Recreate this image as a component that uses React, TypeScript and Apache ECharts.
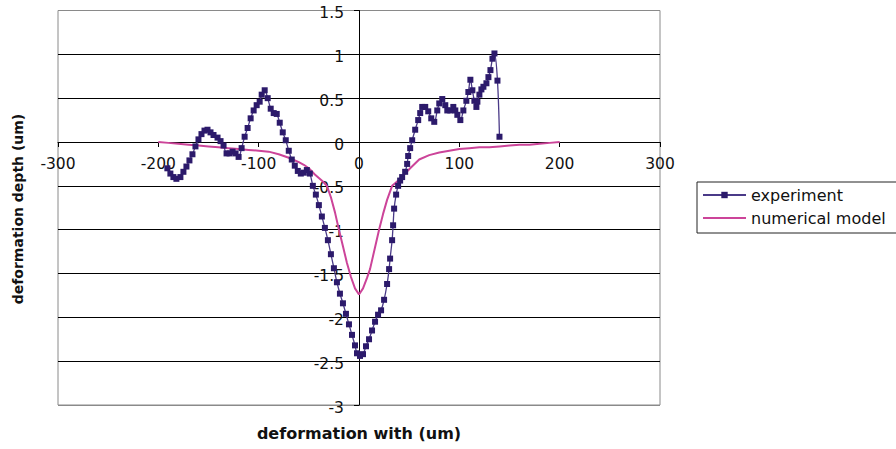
import React, { useEffect, useRef } from "react";
import * as echarts from "echarts";

const expX = [-191, -188, -185, -182, -178, -175, -172, -169, -166, -163, -160, -157, -154, -151, -148, -145, -141, -138, -135, -132, -129, -126, -123, -120, -117, -114, -111, -108, -105, -102, -99, -97, -94, -91, -88, -85, -82, -79, -76, -73, -70, -67, -64, -61, -58, -55, -52, -49, -46, -43, -40, -37, -34, -31, -28, -25, -22, -19, -16, -13, -10, -7, -4, -2, 1, 4, 7, 10, 13, 16, 19, 22, 25, 28, 30, 31, 33, 34, 35, 37, 39, 41, 43, 46, 48, 49, 51, 53, 56, 59, 61, 63, 66, 69, 72, 75, 78, 80, 83, 86, 88, 91, 94, 96, 98, 101, 104, 107, 109, 111, 113, 115, 117, 118, 120, 122, 124, 127, 129, 131, 133, 135, 138, 140];
const expY = [-0.3, -0.36, -0.4, -0.42, -0.4, -0.34, -0.28, -0.21, -0.14, -0.05, 0.03, 0.09, 0.13, 0.14, 0.11, 0.08, 0.05, 0.01, -0.04, -0.13, -0.13, -0.11, -0.13, -0.17, -0.07, 0.06, 0.16, 0.27, 0.36, 0.42, 0.46, 0.54, 0.59, 0.5, 0.38, 0.33, 0.32, 0.22, 0.11, 0.02, -0.1, -0.2, -0.27, -0.33, -0.36, -0.35, -0.32, -0.36, -0.5, -0.6, -0.72, -0.85, -0.98, -1.12, -1.28, -1.44, -1.6, -1.73, -1.84, -1.96, -2.08, -2.2, -2.32, -2.41, -2.44, -2.42, -2.33, -2.25, -2.15, -2.05, -1.97, -1.92, -1.8, -1.62, -1.45, -1.33, -1.12, -0.95, -0.76, -0.6, -0.5, -0.44, -0.4, -0.34, -0.25, -0.16, -0.07, 0.02, 0.14, 0.25, 0.33, 0.4, 0.4, 0.35, 0.27, 0.23, 0.36, 0.44, 0.49, 0.42, 0.36, 0.36, 0.4, 0.36, 0.31, 0.25, 0.36, 0.47, 0.57, 0.71, 0.59, 0.47, 0.4, 0.46, 0.54, 0.6, 0.63, 0.67, 0.74, 0.82, 0.95, 1.01, 0.7, 0.06];

const modelX = [-200, -190, -180, -170, -160, -150, -140, -130, -120, -110, -100, -90, -80, -70, -60, -55, -50, -44, -40, -36, -32, -28, -24, -20, -16, -12, -8, -4, 0, 4, 8, 11, 16, 20, 24, 28, 33, 36, 40, 45, 51, 60, 70, 80, 90, 100, 110, 120, 130, 140, 150, 160, 170, 180, 190, 200];
const modelY = [0, -0.01, -0.02, -0.03, -0.04, -0.05, -0.06, -0.07, -0.08, -0.09, -0.1, -0.11, -0.14, -0.18, -0.23, -0.26, -0.3, -0.37, -0.41, -0.45, -0.5, -0.63, -0.8, -1.0, -1.19, -1.38, -1.54, -1.67, -1.74, -1.67, -1.55, -1.45, -1.2, -1.0, -0.82, -0.66, -0.5, -0.47, -0.43, -0.37, -0.3, -0.2, -0.15, -0.12, -0.1, -0.08, -0.07, -0.06, -0.06, -0.05, -0.04, -0.03, -0.03, -0.02, -0.01, 0];

const seriesNames = ["experiment", "numerical model"];
const xTitle = "deformation with (um)";
const yTitle = "deformation depth (um)";

const FONT = "'DejaVu Sans', 'Liberation Sans', Arial, sans-serif";
const EXP_COLOR = "#2C1A6B";
const MODEL_COLOR = "#CC4499";

export default function App() {
  const ref = useRef<HTMLDivElement>(null);
  useEffect(() => {
    if (!ref.current) return;
    const chart = echarts.init(ref.current, undefined, { renderer: "svg" });
    const expData = expX.map((x, i) => [x, expY[i]]);
    const modelData = modelX.map((x, i) => [x, modelY[i]]);
    const gridLeft = 58;
    const gridTop = 10.5;
    const gridBottom = 44;
    const H = 449;
    chart.setOption({
      animation: false,
      backgroundColor: "#fff",
      textStyle: { fontFamily: FONT },
      grid: {
        left: gridLeft,
        right: 236,
        top: gridTop,
        bottom: gridBottom,
        show: true,
        borderColor: "#8a8a8a",
        borderWidth: 1,
      },
      xAxis: {
        type: "value",
        min: -300,
        max: 300,
        interval: 100,
        axisLine: { onZero: false, lineStyle: { color: "#000", width: 1 } },
        axisTick: { show: true, length: 5, lineStyle: { color: "#000" } },
        axisLabel: { color: "#111", fontSize: 15.5, fontFamily: FONT, margin: 14 },
        splitLine: { show: false },
      },
      yAxis: {
        type: "value",
        min: -3,
        max: 1.5,
        interval: 0.5,
        axisLine: { onZero: false, lineStyle: { color: "#000", width: 1 } },
        axisTick: { show: true, length: 5, lineStyle: { color: "#000" } },
        axisLabel: {
          color: "#111",
          fontSize: 15.5,
          fontFamily: FONT,
          margin: 15,
          verticalAlign: "top",
          lineHeight: 5,
        },
        splitLine: {
          show: true,
          lineStyle: {
            color: ["#8a8a8a", "#000", "#000", "#000", "#000", "#000", "#000", "#000", "#000", "#8a8a8a"],
            width: 1,
          },
        },
      },
      legend: {
        show: true,
        left: 702,
        top: 187,
        orient: "vertical",
        itemWidth: 43,
        itemHeight: 8,
        itemGap: 7,
        padding: 0,
        textStyle: { fontSize: 16, color: "#111", fontFamily: FONT },
        data: [
          { name: seriesNames[0] },
          {
            name: seriesNames[1],
            icon: "path://M0,0 L44,0 L44,2 L0,2 Z",
            itemStyle: { color: MODEL_COLOR },
          },
        ],
      },
      series: [
        {
          name: seriesNames[0],
          type: "line",
          data: expData,
          smooth: 0.35,
          symbol: "rect",
          symbolSize: 6,
          itemStyle: { color: EXP_COLOR },
          lineStyle: { color: "#4A3A88", width: 1.3 },
          z: 3,
        },
        {
          name: seriesNames[1],
          type: "line",
          data: modelData,
          symbol: "none",
          showSymbol: false,
          itemStyle: { color: MODEL_COLOR },
          lineStyle: { color: MODEL_COLOR, width: 2 },
          z: 2,
        },
      ],
      graphic: [
        {
          type: "rect",
          shape: { x: 697, y: 182, width: 220, height: 51 },
          style: { fill: "none", stroke: "#222", lineWidth: 1 },
          silent: true,
        },
        {
          type: "text",
          x: 359,
          y: 433,
          style: {
            text: xTitle,
            font: `bold 16px ${FONT}`,
            fill: "#111",
            textAlign: "center",
            textVerticalAlign: "middle",
          },
        },
        {
          type: "text",
          x: 18,
          y: 209,
          rotation: Math.PI / 2,
          style: {
            text: yTitle,
            font: `bold 14px ${FONT}`,
            fill: "#111",
            textAlign: "center",
            textVerticalAlign: "middle",
          },
        },
      ],
    });
    // Move both axes (line, ticks and labels) to cross at the origin, Excel style.
    const origin = chart.convertToPixel({ gridIndex: 0 }, [0, 0]) as number[];
    if (origin && isFinite(origin[0]) && isFinite(origin[1])) {
      const xOffset = -((H - gridBottom) - origin[1]);
      const yOffset = -(origin[0] - gridLeft);
      chart.setOption({
        xAxis: { offset: xOffset },
        yAxis: { offset: yOffset },
      });
    }
    return () => chart.dispose();
  }, []);
  return (
    <div
      ref={ref}
      style={{ position: "fixed", left: 0, top: 0, width: 896, height: 449, background: "#fff" }}
    />
  );
}
